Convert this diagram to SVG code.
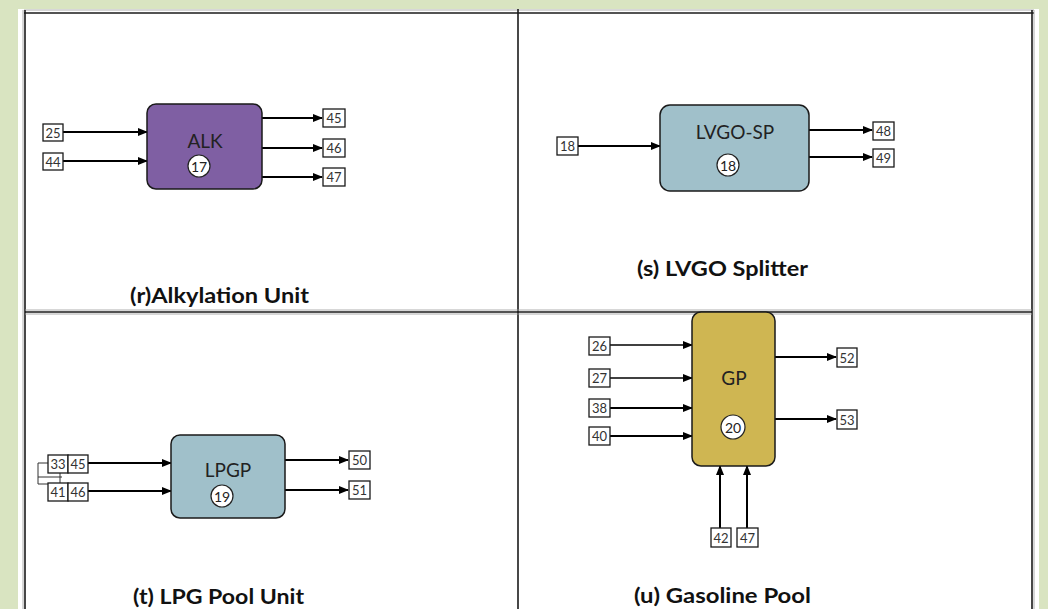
<svg xmlns="http://www.w3.org/2000/svg" width="1048" height="609" viewBox="0 0 1048 609">
<defs>
<marker id="ahl" markerWidth="10" markerHeight="8" refX="9" refY="4" orient="auto" markerUnits="userSpaceOnUse" viewBox="0 0 10 8">
<path d="M0,0 L10,4 L0,8 Z" fill="#000"/>
</marker>
</defs>
<style>
.bg{fill:#d9e4c1}
.page{fill:#ffffff}
.rule{stroke:#1a1a1a;stroke-width:1.6;fill:none}
.rule2{stroke:#9a9a9a;stroke-width:0.8;fill:none}
.box{fill:#ffffff;stroke:#1a1a1a;stroke-width:1.3}
.lbl{font-family:Lato,"Open Sans","Liberation Sans",sans-serif;font-size:13px;fill:#333;text-anchor:middle;dominant-baseline:central}
.ntxt{font-family:Lato,"Open Sans","Liberation Sans",sans-serif;font-size:19px;fill:#222;text-anchor:middle;dominant-baseline:central}
.cap{font-family:Lato,"Open Sans","Liberation Sans",sans-serif;font-size:21px;font-weight:bold;fill:#111;text-anchor:middle}
.circ{fill:#ffffff;stroke:#222;stroke-width:1.2}
.ctxt{font-family:Lato,"Open Sans","Liberation Sans",sans-serif;font-size:14px;fill:#222;text-anchor:middle;dominant-baseline:central}
.unit{stroke:#1a1a1a;stroke-width:1.5}
.arr{stroke:#000;stroke-width:2;fill:none;marker-end:url(#ahl)}
.arrt{stroke:#000;stroke-width:1.4;fill:none;marker-end:url(#ahl)}
.thin{stroke:#333;stroke-width:1;fill:none}
</style>
<rect class="bg" x="0" y="0" width="1048" height="609"/>
<rect class="page" x="18" y="9" width="1021" height="600"/>
<g id="table">
<line class="rule2" x1="24" y1="10" x2="1034" y2="10"/>
<line class="rule" x1="24" y1="13" x2="1034" y2="13"/>
<line class="rule" x1="25" y1="10" x2="25" y2="609"/>
<line class="rule2" x1="23" y1="10" x2="23" y2="609"/>
<line class="rule" x1="1032" y1="10" x2="1032" y2="609"/>
<line class="rule2" x1="1034" y1="10" x2="1034" y2="609"/>
<line class="rule" x1="518" y1="9" x2="518" y2="609"/>
<line class="rule" x1="25" y1="312" x2="1032" y2="312"/>
<line class="rule2" x1="25" y1="310" x2="1032" y2="310"/>
<line class="rule2" x1="25" y1="314" x2="1032" y2="314"/>
</g>

<g id="connectors">
<line class="arr" x1="63" y1="132" x2="147" y2="132"/>
<line class="arr" x1="63" y1="161" x2="147" y2="161"/>
<line class="arr" x1="262" y1="118" x2="322" y2="118"/>
<line class="arr" x1="262" y1="148" x2="322" y2="148"/>
<line class="arr" x1="262" y1="177" x2="322" y2="177"/>

<line class="arr" x1="578" y1="146" x2="660" y2="146"/>
<line class="arr" x1="809" y1="130" x2="872" y2="130"/>
<line class="arr" x1="809" y1="157" x2="872" y2="157"/>

<line class="arr" x1="88" y1="463" x2="171" y2="463"/>
<line class="arr" x1="88" y1="491" x2="171" y2="491"/>
<line class="arr" x1="285" y1="460" x2="348" y2="460"/>
<line class="arr" x1="285" y1="490" x2="348" y2="490"/>
<path class="thin" d="M48,463 H38 V484 H48"/>
<path class="thin" d="M38,477 H62 M60,473 V483"/>

<line class="arrt" x1="610" y1="345" x2="692" y2="345"/>
<line class="arrt" x1="610" y1="378" x2="692" y2="378"/>
<line class="arr" x1="610" y1="408" x2="692" y2="408"/>
<line class="arr" x1="610" y1="436" x2="692" y2="436"/>
<line class="arr" x1="775" y1="357" x2="836" y2="357"/>
<line class="arr" x1="775" y1="419" x2="836" y2="419"/>
<line class="arr" x1="720" y1="528" x2="720" y2="466"/>
<line class="arr" x1="747" y1="528" x2="747" y2="466"/>
</g>

<g id="alk">
<rect x="147" y="104" width="115" height="85" rx="9" fill="#7f5fa3" class="unit"/>
<text class="ntxt" x="205" y="140">ALK</text>
<circle class="circ" cx="199" cy="166" r="11"/>
<text class="ctxt" x="199" y="166">17</text>
</g>
<g id="s25"><rect class="box" x="43" y="124" width="20" height="17"/><text class="lbl" x="53" y="132.5">25</text></g>
<g id="s44"><rect class="box" x="43" y="153" width="20" height="17"/><text class="lbl" x="53" y="161.5">44</text></g>
<g id="s45"><rect class="box" x="323" y="109" width="22" height="18"/><text class="lbl" x="334" y="118">45</text></g>
<g id="s46"><rect class="box" x="323" y="139" width="22" height="18"/><text class="lbl" x="334" y="148">46</text></g>
<g id="s47"><rect class="box" x="323" y="168" width="22" height="18"/><text class="lbl" x="334" y="177">47</text></g>
<text class="cap" x="219.5" y="303" textLength="179" lengthAdjust="spacingAndGlyphs">(r)Alkylation Unit</text>

<g id="lvgo">
<rect x="660" y="105" width="149" height="86" rx="10" fill="#a0c0ca" class="unit"/>
<text class="ntxt" x="735" y="131">LVGO-SP</text>
<circle class="circ" cx="728" cy="165" r="11"/>
<text class="ctxt" x="728" y="165">18</text>
</g>
<g id="s18"><rect class="box" x="557" y="137" width="21" height="18"/><text class="lbl" x="567.5" y="146">18</text></g>
<g id="s48"><rect class="box" x="873" y="122" width="21" height="18"/><text class="lbl" x="883.5" y="131">48</text></g>
<g id="s49"><rect class="box" x="873" y="149" width="21" height="18"/><text class="lbl" x="883.5" y="158">49</text></g>
<text class="cap" x="722.5" y="276" textLength="171" lengthAdjust="spacingAndGlyphs">(s) LVGO Splitter</text>

<g id="lpgp">
<rect x="171" y="435" width="114" height="83" rx="9" fill="#a0c0ca" class="unit"/>
<text class="ntxt" x="228" y="469">LPGP</text>
<circle class="circ" cx="222" cy="496" r="11"/>
<text class="ctxt" x="222" y="496">19</text>
</g>
<g id="s33"><rect class="box" x="48" y="455" width="20" height="18"/><text class="lbl" x="58" y="464">33</text></g>
<g id="s45b"><rect class="box" x="68" y="455" width="20" height="18"/><text class="lbl" x="78" y="464">45</text></g>
<g id="s41"><rect class="box" x="48" y="483" width="20" height="18"/><text class="lbl" x="58" y="492">41</text></g>
<g id="s46b"><rect class="box" x="68" y="483" width="20" height="18"/><text class="lbl" x="78" y="492">46</text></g>
<g id="s50"><rect class="box" x="349" y="451" width="21" height="18"/><text class="lbl" x="359.5" y="460">50</text></g>
<g id="s51"><rect class="box" x="349" y="481" width="21" height="18"/><text class="lbl" x="359.5" y="490">51</text></g>
<text class="cap" x="218.5" y="604" textLength="171" lengthAdjust="spacingAndGlyphs">(t) LPG Pool Unit</text>

<g id="gp">
<rect x="692" y="312" width="83" height="154" rx="9" fill="#cfb652" class="unit"/>
<text class="ntxt" x="734" y="377">GP</text>
<circle class="circ" cx="733" cy="427" r="12"/>
<text class="ctxt" x="733" y="427">20</text>
</g>
<g id="s26"><rect class="box" x="589" y="337" width="21" height="18"/><text class="lbl" x="599.5" y="346">26</text></g>
<g id="s27"><rect class="box" x="589" y="369" width="21" height="18"/><text class="lbl" x="599.5" y="378">27</text></g>
<g id="s38"><rect class="box" x="589" y="399" width="21" height="18"/><text class="lbl" x="599.5" y="408">38</text></g>
<g id="s40"><rect class="box" x="589" y="427" width="21" height="18"/><text class="lbl" x="599.5" y="436">40</text></g>
<g id="s52"><rect class="box" x="837" y="348" width="20" height="19"/><text class="lbl" x="847" y="357.5">52</text></g>
<g id="s53"><rect class="box" x="837" y="410" width="20" height="19"/><text class="lbl" x="847" y="419.5">53</text></g>
<g id="s42"><rect class="box" x="711" y="528" width="20" height="19"/><text class="lbl" x="721" y="537.5">42</text></g>
<g id="s47b"><rect class="box" x="737" y="528" width="21" height="19"/><text class="lbl" x="747.5" y="537.5">47</text></g>
<text class="cap" x="722.5" y="603" textLength="177" lengthAdjust="spacingAndGlyphs">(u) Gasoline Pool</text>
</svg>
